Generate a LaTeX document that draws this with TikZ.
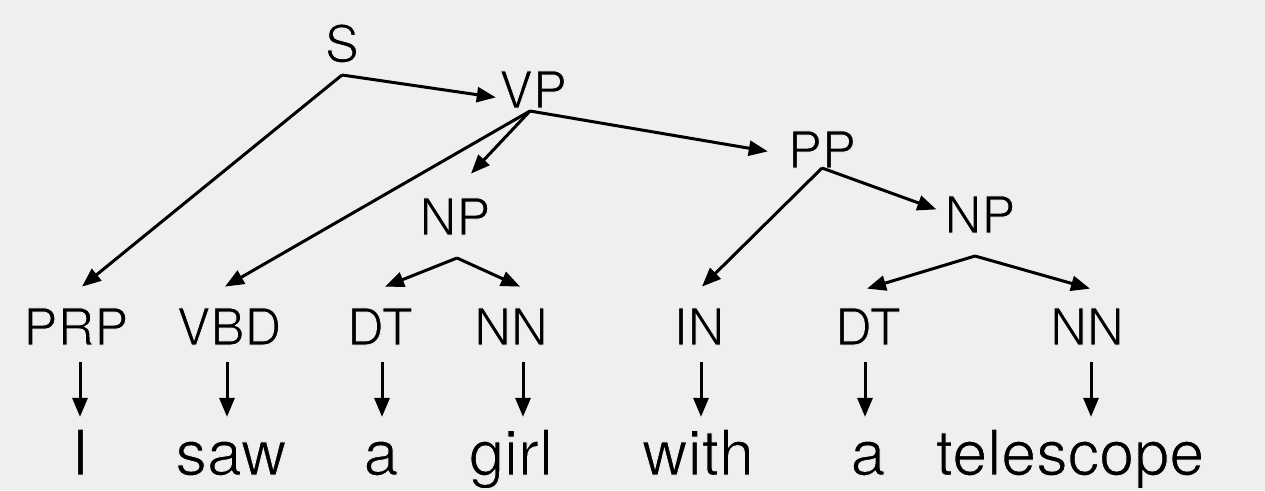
\documentclass[tikz,border=0pt]{standalone}
\usepackage{fontspec}
\setmainfont{TeX Gyre Heros}
\usetikzlibrary{arrows.meta}
\definecolor{paper}{HTML}{EFEFED}
% light text: glyphs are filled, then their outline is stroked in the paper colour
\newcommand\lighttext[1]{\special{pdf:literal q 2 Tr 1.0 w 0.937 0.937 0.929 RG}#1\special{pdf:literal Q}}
\tikzset{
  cat/.style={inner sep=0pt, anchor=base, font=\fontsize{51}{51}\selectfont},
  word/.style={inner sep=0pt, anchor=base, font=\fontsize{63}{63}\selectfont},
  edge/.style={line width=3pt, -{Triangle[length=19pt,width=15pt]}},
}
\begin{document}
\begin{tikzpicture}[x=1pt,y=-1pt]
  \fill[paper] (0,0) rectangle (1265,490);
  \useasboundingbox (0,0) rectangle (1265,490);

  % phrase nodes
  \node[cat] (s)   at (342,62)  {\lighttext{S}};
  \node[cat] (vp)  at (533,108) {\lighttext{VP}};
  \node[cat] (pp)  at (822,168) {\lighttext{PP}};
  \node[cat] (np1) at (455,235) {\lighttext{NP}};
  \node[cat] (np2) at (980,233) {\lighttext{NP}};

  % part-of-speech tags
  \node[cat] (prp) at (76,345)   {\lighttext{PRP}};
  \node[cat] (vbd) at (229,345)  {\lighttext{VBD}};
  \node[cat] (dt1) at (380,345)  {\lighttext{DT}};
  \node[cat] (nn1) at (511,345)  {\lighttext{NN}};
  \node[cat] (in)  at (699,345)  {\lighttext{IN}};
  \node[cat] (dt2) at (868,345)  {\lighttext{DT}};
  \node[cat] (nn2) at (1087,345) {\lighttext{NN}};

  % words
  \node[word] (w1) at (80,475)   {\lighttext{I}};
  \node[word] (w2) at (231,475)  {\lighttext{saw}};
  \node[word] (w3) at (381,475)  {\lighttext{a}};
  \node[word] (w4) at (511,475)  {\lighttext{girl}};
  \node[word] (w5) at (698,475)  {\lighttext{with}};
  \node[word] (w6) at (868,475)  {\lighttext{a}};
  \node[word] (w7) at (1070,475) {\lighttext{telescope}};

  % branching points under each phrase
  \coordinate (js)   at (342,75);
  \coordinate (jvp)  at (530,111);
  \coordinate (jpp)  at (822,168);
  \coordinate (jnp1) at (457,258);
  \coordinate (jnp2) at (975,256);

  % tree edges
  \draw[edge] (js) -- ([xshift=-3pt,yshift=-8pt]vp.west);
  \draw[edge] (js) -- ([xshift=6pt,yshift=21pt]prp.north);
  \draw[edge] (jvp) -- ([xshift=-4pt,yshift=21pt]vbd.north);
  \draw[edge] (jvp) -- ([xshift=16pt,yshift=24pt]np1.north);
  \draw[edge] (jvp) -- ([xshift=-20pt,yshift=-2pt]pp.west);
  \draw[edge] (jnp1) -- ([xshift=5pt,yshift=21pt]dt1.north);
  \draw[edge] (jnp1) -- ([xshift=9pt,yshift=21pt]nn1.north);
  \draw[edge] (jpp) -- ([xshift=3pt,yshift=21pt]in.north);
  \draw[edge] (jpp) -- ([xshift=-8pt,yshift=5pt]np2.west);
  \draw[edge] (jnp2) -- ([xshift=-1pt,yshift=19pt]dt2.north);
  \draw[edge] (jnp2) -- ([xshift=3pt,yshift=19pt]nn2.north);

  % tag-to-word edges
  \draw[edge] ([xshift=4pt,yshift=-17pt]prp.south) -- ([yshift=12pt]w1.north);
  \draw[edge] ([xshift=-2pt,yshift=-17pt]vbd.south) -- ([xshift=-4pt,yshift=12pt]w2.north |- w1.north);
  \draw[edge] ([xshift=2pt,yshift=-17pt]dt1.south) -- ([xshift=1pt,yshift=12pt]w3.north |- w1.north);
  \draw[edge] ([xshift=12pt,yshift=-17pt]nn1.south) -- ([xshift=12pt,yshift=12pt]w4.north |- w1.north);
  \draw[edge] ([xshift=2pt,yshift=-17pt]in.south) -- ([xshift=3pt,yshift=12pt]w5.north |- w1.north);
  \draw[edge] ([xshift=-3pt,yshift=-17pt]dt2.south) -- ([xshift=-3pt,yshift=12pt]w6.north |- w1.north);
  \draw[edge] ([xshift=4pt,yshift=-17pt]nn2.south) -- ([xshift=21pt,yshift=12pt]w7.north |- w1.north);
\end{tikzpicture}
\end{document}
